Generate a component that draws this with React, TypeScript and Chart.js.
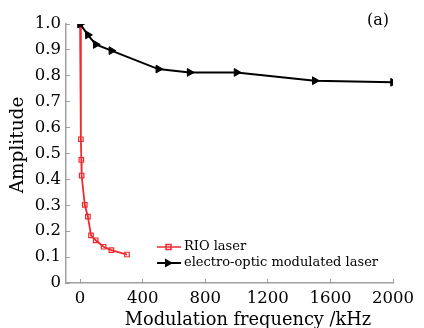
import React, { useEffect, useRef } from "react";
import { Chart, registerables } from "chart.js";

Chart.register(...registerables);

const rioFreq = [0, 5, 8, 10, 30, 50, 70, 100, 150, 200, 300];
const rioAmp = [1.0, 0.555, 0.475, 0.415, 0.302, 0.256, 0.184, 0.165, 0.14, 0.127, 0.11];
const eoFreq = [0, 50, 100, 200, 500, 700, 1000, 1500, 2000];
const eoAmp = [1.0, 0.958, 0.921, 0.897, 0.826, 0.813, 0.813, 0.781, 0.775];
const xTicks = [0, 400, 800, 1200, 1600, 2000];
const seriesNames = ["RIO laser", "electro-optic modulated laser"];
const xTitle = "Modulation frequency /kHz";
const yTitle = "Amplitude";
const panelLabel = "(a)";

const RED = "#ee2b2f";
const FONT = "'DejaVu Serif', serif";
const AXIS = "#a0a0a0";

const overlay = {
  id: "overlay",
  afterDraw(chart: any) {
    const ctx = chart.ctx;
    ctx.save();
    // panel label
    ctx.fillStyle = "#000";
    ctx.font = `16px ${FONT}`;
    ctx.textAlign = "center";
    ctx.textBaseline = "middle";
    ctx.fillText(panelLabel, 378, 21);
    // x title
    ctx.font = `17.8px ${FONT}`;
    ctx.textBaseline = "alphabetic";
    ctx.fillText(xTitle, 248, 325);
    // y title
    ctx.save();
    ctx.translate(23, 145);
    ctx.rotate(-Math.PI / 2);
    ctx.textAlign = "center";
    ctx.font = `18.5px ${FONT}`;
    ctx.fillText(yTitle, 0, 0);
    ctx.restore();
    // legend
    ctx.font = `13px ${FONT}`;
    ctx.textAlign = "left";
    ctx.textBaseline = "middle";
    const lx = 157;
    const rows = [247, 263];
    // RIO
    ctx.strokeStyle = RED;
    ctx.lineWidth = 1.5;
    ctx.beginPath();
    ctx.moveTo(lx, rows[0]);
    ctx.lineTo(lx + 24, rows[0]);
    ctx.stroke();
    ctx.strokeRect(lx + 9, rows[0] - 2.5, 5, 5);
    ctx.fillStyle = "#000";
    ctx.fillText(seriesNames[0], lx + 27, rows[0]);
    // EO
    ctx.strokeStyle = "#000";
    ctx.lineWidth = 2;
    ctx.beginPath();
    ctx.moveTo(lx, rows[1]);
    ctx.lineTo(lx + 24, rows[1]);
    ctx.stroke();
    ctx.beginPath();
    ctx.moveTo(lx + 16, rows[1]);
    ctx.lineTo(lx + 8, rows[1] - 4.5);
    ctx.lineTo(lx + 8, rows[1] + 4.5);
    ctx.closePath();
    ctx.fill();
    ctx.fillText(seriesNames[1], lx + 27, rows[1]);
    ctx.restore();
  },
};

export default function App() {
  const ref = useRef<HTMLCanvasElement | null>(null);
  useEffect(() => {
    document.body.style.margin = "0";
    const canvas = ref.current!;
    const chart = new Chart(canvas, {
      type: "line",
      data: {
        datasets: [
          {
            label: seriesNames[1],
            data: eoFreq.map((x, i) => ({ x, y: eoAmp[i] })),
            borderColor: "#000",
            backgroundColor: "#000",
            borderWidth: 2,
            pointStyle: "triangle",
            rotation: 90,
            pointRadius: 4.5,
            pointBorderWidth: 1,
            tension: 0,
          } as any,
          {
            label: seriesNames[0],
            data: rioFreq.map((x, i) => ({ x, y: rioAmp[i] })),
            borderColor: RED,
            backgroundColor: "rgba(0,0,0,0)",
            borderWidth: 1.8,
            pointStyle: "rect",
            pointRadius: 3.2,
            pointBorderWidth: 1.2,
            tension: 0,
          },
        ],
      },
      options: {
        animation: false,
        responsive: false,
        maintainAspectRatio: false,
        layout: { padding: { top: 24, right: 28, left: 0, bottom: 0 } },
        plugins: {
          legend: { display: false },
          tooltip: { enabled: false },
        },
        scales: {
          x: {
            type: "linear",
            min: -90,
            max: 2000,
            afterBuildTicks: (s: any) => {
              s.ticks = xTicks.map((v) => ({ value: v }));
            },
            afterFit: (s: any) => {
              s.height = 45;
            },
            border: { display: true, color: AXIS, width: 1.5 },
            grid: { drawOnChartArea: false, drawTicks: true, tickLength: -4, color: AXIS, lineWidth: 1 },
            ticks: {
              font: { family: FONT, size: 16.5 },
              color: "#000",
              padding: 10,
              maxRotation: 0,
              autoSkip: false,
              callback: (v: any) => String(v),
            },
          },
          y: {
            type: "linear",
            min: 0,
            max: 1,
            afterFit: (s: any) => {
              s.width = 66;
            },
            border: { display: true, color: AXIS, width: 1.5 },
            grid: { drawOnChartArea: false, drawTicks: true, tickLength: -4, color: AXIS, lineWidth: 1 },
            ticks: {
              stepSize: 0.1,
              font: { family: FONT, size: 16.5 },
              color: "#000",
              padding: 9,
              callback: (v: any) => (Math.abs(v) < 1e-9 ? "0" : Number(v).toFixed(1)),
            },
          },
        },
      },
      plugins: [overlay],
    });
    return () => chart.destroy();
  }, []);
  return (
    <div style={{ width: 424, height: 328 }}>
      <canvas ref={ref} width={424} height={328} style={{ display: "block" }} />
    </div>
  );
}
